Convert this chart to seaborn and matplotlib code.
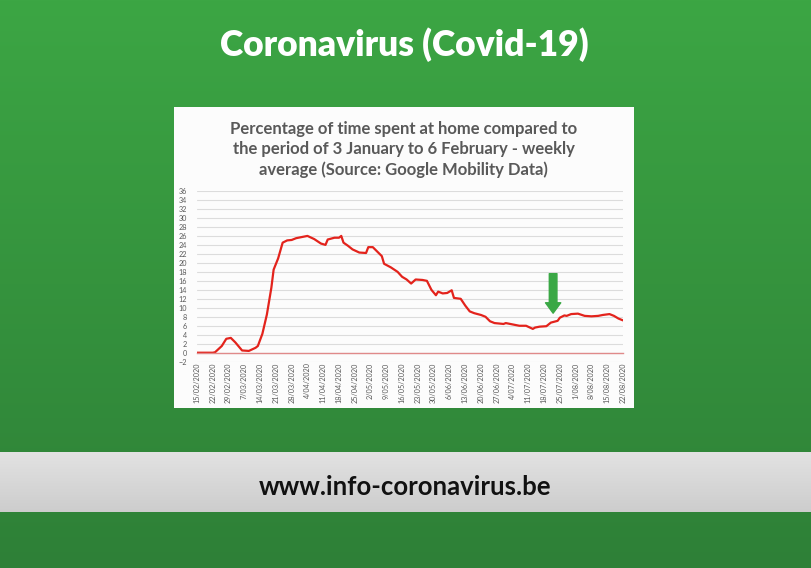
import matplotlib
matplotlib.use("Agg")
import matplotlib.pyplot as plt
from matplotlib.patches import Rectangle
import numpy as np
import pandas as pd
import seaborn as sns

# time spent at home vs 3 Jan - 6 Feb baseline, weekly average
dates = [
    "2020-02-15", "2020-02-22", "2020-02-23", "2020-02-26", "2020-02-28",
    "2020-03-01", "2020-03-03", "2020-03-06", "2020-03-09", "2020-03-12",
    "2020-03-13", "2020-03-15", "2020-03-17", "2020-03-19", "2020-03-20",
    "2020-03-22", "2020-03-24", "2020-03-26", "2020-03-28", "2020-03-30",
    "2020-04-01", "2020-04-04", "2020-04-07", "2020-04-10", "2020-04-12",
    "2020-04-13", "2020-04-16", "2020-04-18", "2020-04-19", "2020-04-20",
    "2020-04-22", "2020-04-24", "2020-04-27", "2020-04-30", "2020-05-01",
    "2020-05-03", "2020-05-05", "2020-05-07", "2020-05-08", "2020-05-11",
    "2020-05-14", "2020-05-16", "2020-05-18", "2020-05-20", "2020-05-22",
    "2020-05-25", "2020-05-27", "2020-05-29", "2020-05-31", "2020-06-01",
    "2020-06-03", "2020-06-05", "2020-06-07", "2020-06-08", "2020-06-11",
    "2020-06-13", "2020-06-15", "2020-06-17", "2020-06-20", "2020-06-22",
    "2020-06-24", "2020-06-26", "2020-06-28", "2020-06-30", "2020-07-01",
    "2020-07-04", "2020-07-07", "2020-07-10", "2020-07-13", "2020-07-14",
    "2020-07-16", "2020-07-19", "2020-07-21", "2020-07-24", "2020-07-25",
    "2020-07-27", "2020-07-28", "2020-07-30", "2020-08-02", "2020-08-05",
    "2020-08-08", "2020-08-11", "2020-08-13", "2020-08-16", "2020-08-18",
    "2020-08-20", "2020-08-22",
]
pct_home = [
    0.0, 0.0, 0.1, 1.5, 3.1,
    3.3, 2.3, 0.5, 0.4, 1.1,
    1.5, 4.2, 8.5, 14.5, 18.5,
    21.0, 24.5, 25.0, 25.1, 25.5,
    25.7, 26.0, 25.3, 24.3, 24.0,
    25.2, 25.6, 25.6, 26.0, 24.5,
    23.8, 23.0, 22.3, 22.2, 23.5,
    23.5, 22.5, 21.5, 19.8, 19.0,
    18.0, 16.9, 16.3, 15.4, 16.3,
    16.2, 16.0, 14.0, 12.8, 13.6,
    13.2, 13.3, 13.9, 12.2, 12.0,
    10.5, 9.2, 8.8, 8.4, 8.0,
    7.0, 6.6, 6.5, 6.4, 6.6,
    6.3, 6.0, 6.0, 5.3, 5.6,
    5.8, 5.9, 6.7, 7.1, 7.8,
    8.3, 8.2, 8.6, 8.7, 8.2,
    8.1, 8.2, 8.4, 8.6, 8.2,
    7.6, 7.2,
]
y_ticks = list(range(-2, 38, 2))

df = pd.DataFrame({"date": pd.to_datetime(dates), "pct": pct_home})
week_ticks = pd.date_range("2020-02-15", "2020-08-22", freq="7D")

sns.set_style("white")
plt.rcParams["font.family"] = ["Lato", "DejaVu Sans"]

fig = plt.figure(figsize=(8.12, 5.68), dpi=100)

# green video background with grey banner
bg = fig.add_axes([0, 0, 1, 1], zorder=-10)
grad = np.linspace(0, 1, 256).reshape(-1, 1)
top = np.array([60, 166, 68]) / 255
bot = np.array([46, 128, 55]) / 255
img = top[None, None, :] * (1 - grad[..., None]) + bot[None, None, :] * grad[..., None]
bg.imshow(img, aspect="auto", extent=[0, 1, 0, 1], origin="upper")
band = np.linspace(0, 1, 64).reshape(-1, 1)
btop = np.array([226, 226, 226]) / 255
bbot = np.array([205, 205, 205]) / 255
bimg = btop[None, None, :] * (1 - band[..., None]) + bbot[None, None, :] * band[..., None]
bg.imshow(bimg, aspect="auto", extent=[0, 1, 56 / 568, 115 / 568], origin="upper")
bg.add_patch(Rectangle((174 / 812, 160 / 568), 460 / 812, 301 / 568,
                       facecolor="#fcfcfc", edgecolor="none"))
bg.set_xlim(0, 1)
bg.set_ylim(0, 1)
bg.axis("off")

fig.text(0.498, 0.922, "Coronavirus (Covid-19)", color="white", fontsize=25.5,
         fontweight="heavy", ha="center", va="center")
fig.text(0.499, 0.142, "www.info-coronavirus.be", color="#111111", fontsize=18.5,
         fontweight="bold", ha="center", va="center")
fig.text(0.497, 0.737,
         "Percentage of time spent at home compared to\n"
         "the period of 3 January to 6 February - weekly\n"
         "average (Source: Google Mobility Data)",
         color="#595959", fontsize=12, fontweight="bold", ha="center", va="center",
         linespacing=1.3)

ax = fig.add_axes([197 / 812, (568 - 361.7) / 568, 426 / 812, 170.7 / 568])
ax.set_facecolor("none")
sns.lineplot(data=df, x="date", y="pct", color="#e3231c", linewidth=1.6, ax=ax)

ax.set_xlim(week_ticks[0], week_ticks[-1])
ax.set_ylim(-2, 36)
ax.set_yticks(y_ticks)
ax.set_xticks(week_ticks)
ax.set_xticklabels([f"{d.day}/{d:%m/%Y}" for d in week_ticks])
ax.grid(axis="y", color="#dcdcdc", linewidth=0.8)
ax.grid(axis="x", visible=False)
ax.set_axisbelow(True)
for s in ["left", "right", "top"]:
    ax.spines[s].set_visible(False)
ax.spines["bottom"].set_position(("data", 0))
ax.spines["bottom"].set_color("#e08a8a")
ax.spines["bottom"].set_linewidth(1.0)
ax.tick_params(axis="x", direction="out", length=4, width=0.6, color="#bdbdbd",
               labelsize=5.2, labelcolor="#595959", pad=3, labelrotation=90)
ax.tick_params(axis="y", length=0, labelsize=5.2, labelcolor="#595959", pad=7)
ax.set_xlabel("")
ax.set_ylabel("")

# green arrow pointing at the late-July uptick
ax.annotate("", xy=(pd.Timestamp("2020-07-22"), 8.8),
            xytext=(pd.Timestamp("2020-07-22"), 17.6),
            arrowprops=dict(arrowstyle="simple,head_width=1.1,head_length=0.75,tail_width=0.55",
                            color="#3aa845", shrinkA=0, shrinkB=0))

fig.savefig("out.png", dpi=100)
